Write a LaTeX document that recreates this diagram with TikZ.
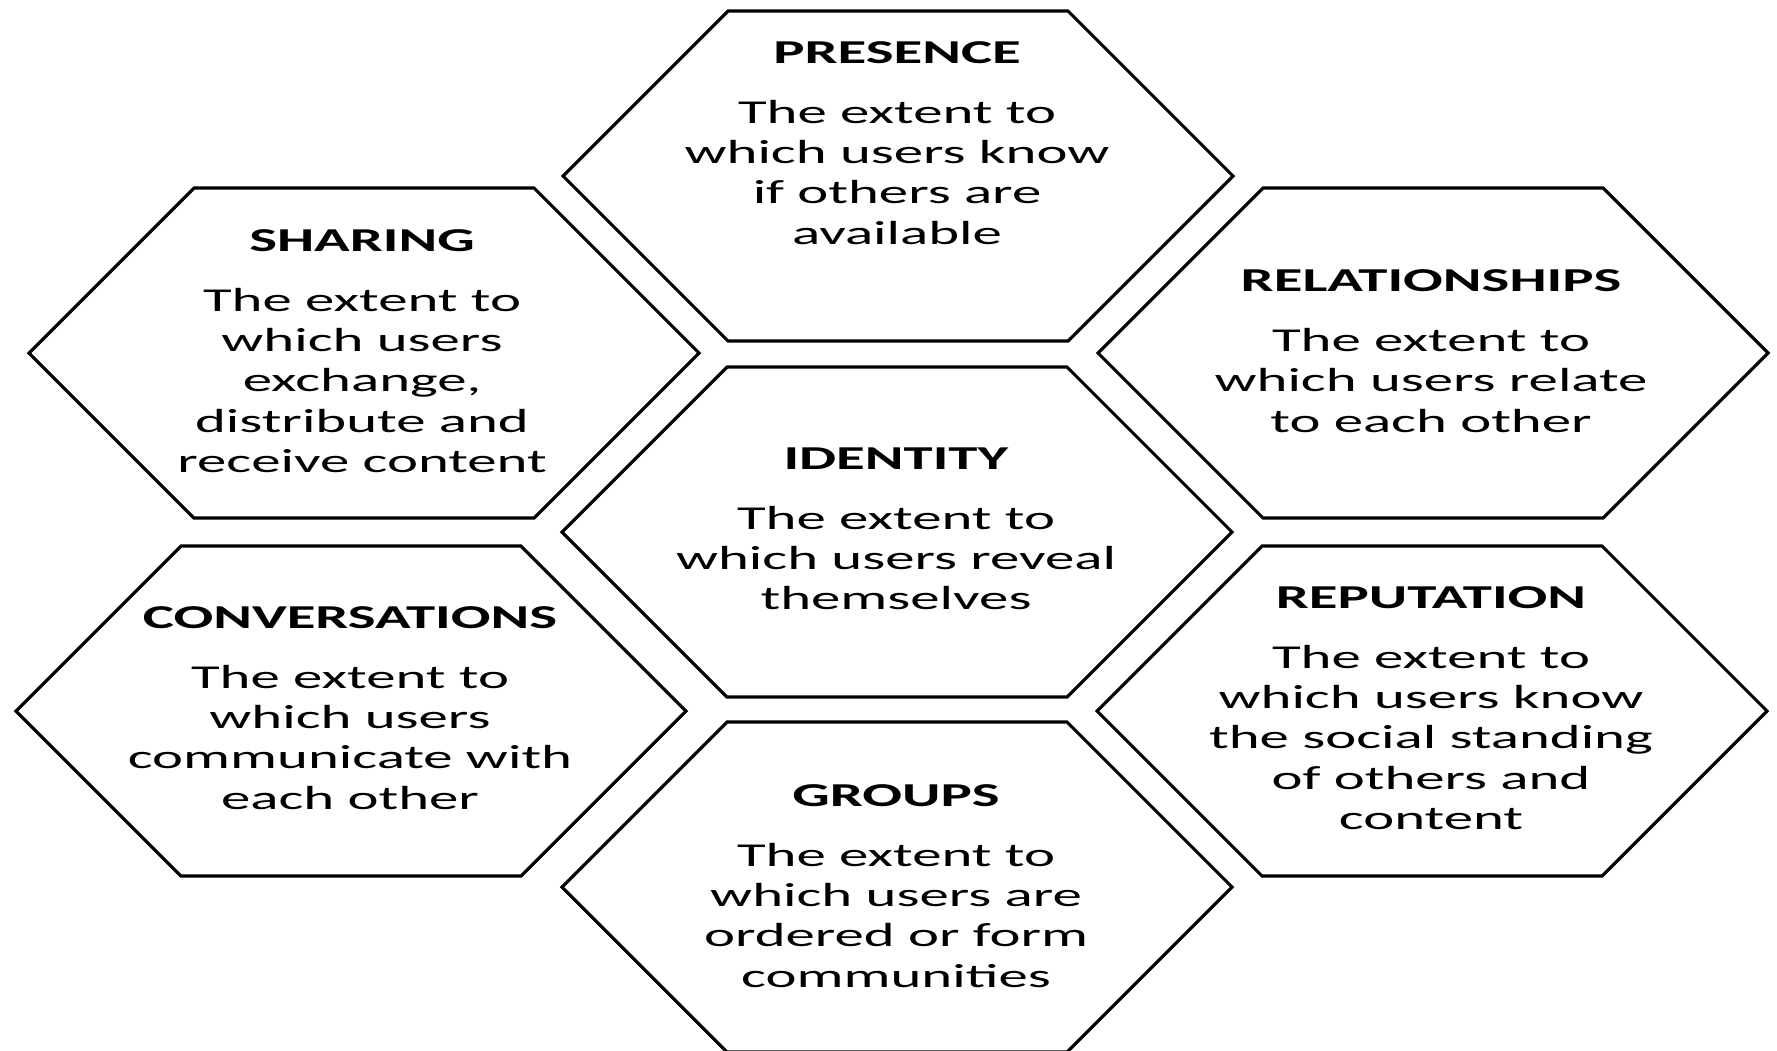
\documentclass[tikz,border=0pt]{standalone}
\usepackage{fontspec}
\setmainfont{Carlito}[FakeStretch=1.76]

\begin{document}
\begin{tikzpicture}[x=0.01cm, y=-0.01cm,
	hexline/.style={line width=0.9pt, line join=miter},
	cell/.style={align=center, inner sep=0pt, font=\fontsize{9.5}{11.4}\selectfont}]
	\useasboundingbox (0,0) rectangle (1777,1050);
	\foreach \cx/\cy in {898/176, 364/353, 1433/353, 897/532, 351/711, 1432/711, 897/887}
		\draw[hexline] (\cx-335,\cy) -- ++(165,-165) -- ++(340,0) -- ++(165,165) -- ++(-165,165) -- ++(-340,0) -- cycle;
	\node[cell] (presence) at (897,143) {\textbf{PRESENCE}\\[5.7pt] The extent to\\ which users know\\ if others are\\ available};
	\node[cell] (sharing) at (362,351) {\textbf{SHARING}\\[5.7pt] The extent to\\ which users\\ exchange,\\ distribute and\\ receive content};
	\node[cell] (relationships) at (1431,351) {\textbf{RELATIONSHIPS}\\[5.7pt] The extent to\\ which users relate\\ to each other};
	\node[cell] (identity) at (896,529) {\textbf{IDENTITY}\\[5.7pt] The extent to\\ which users reveal\\ themselves};
	\node[cell] (conversations) at (350,708) {\textbf{CONVERSATIONS}\\[5.7pt] The extent to\\ which users\\ communicate with\\ each other};
	\node[cell] (reputation) at (1431,708) {\textbf{REPUTATION}\\[5.7pt] The extent to\\ which users know\\ the social standing\\ of others and\\ content};
	\node[cell] (groups) at (896,886) {\textbf{GROUPS}\\[5.7pt] The extent to\\ which users are\\ ordered or form\\ communities};
\end{tikzpicture}
\end{document}
